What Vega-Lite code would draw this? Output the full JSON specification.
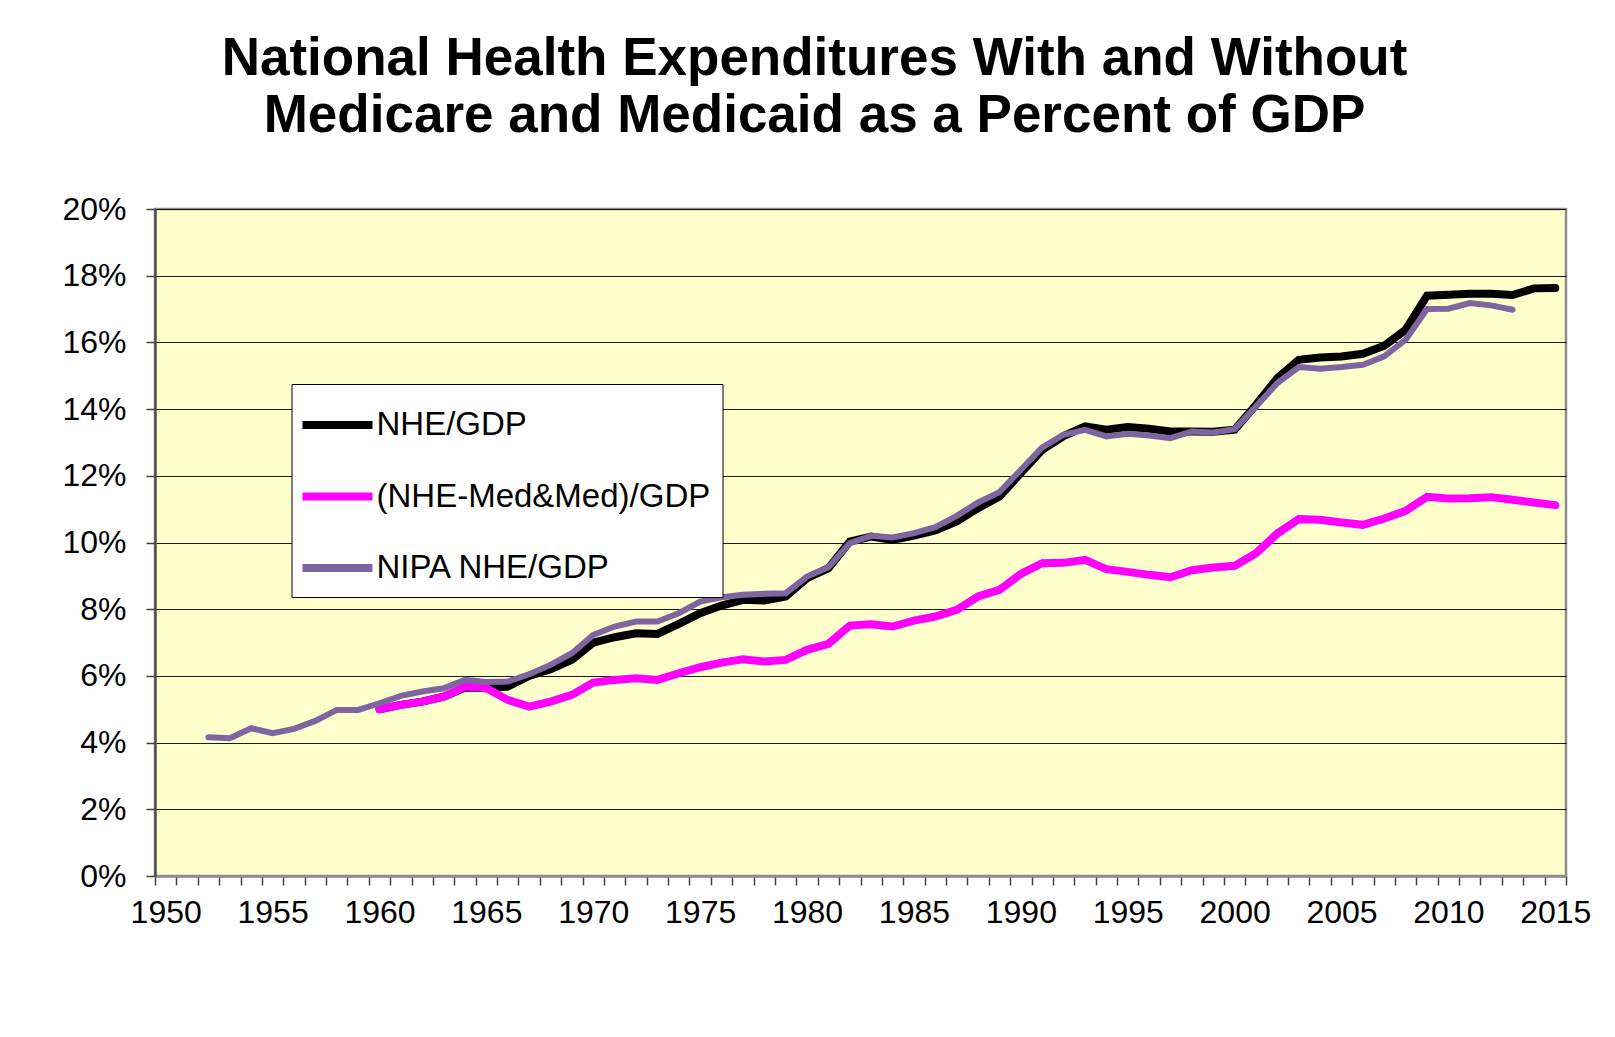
{
  "$schema": "https://vega.github.io/schema/vega-lite/v6.json",
  "width": 1411,
  "height": 667,
  "autosize": {"type": "none"},
  "padding": {"left": 155, "top": 209, "right": 49, "bottom": 161},
  "background": "white",
  "title": {
    "text": ["National Health Expenditures With and Without", "Medicare and Medicaid as a Percent of GDP"],
    "font": "Liberation Sans",
    "fontSize": 53,
    "fontWeight": "bold",
    "color": "black",
    "lineHeight": 57,
    "anchor": "middle",
    "baseline": "bottom",
    "offset": -3,
    "dx": -46
  },
  "config": {
    "view": {"fill": "#FFFFCC", "stroke": "#8c8c8c", "strokeWidth": 2.5},
    "font": "Liberation Sans"
  },
  "data": {
    "values": [
      {"year": 1960, "series": "NHE/GDP", "value": 5.0},
      {"year": 1961, "series": "NHE/GDP", "value": 5.13},
      {"year": 1962, "series": "NHE/GDP", "value": 5.23},
      {"year": 1963, "series": "NHE/GDP", "value": 5.38},
      {"year": 1964, "series": "NHE/GDP", "value": 5.65},
      {"year": 1965, "series": "NHE/GDP", "value": 5.63},
      {"year": 1966, "series": "NHE/GDP", "value": 5.68},
      {"year": 1967, "series": "NHE/GDP", "value": 6.0},
      {"year": 1968, "series": "NHE/GDP", "value": 6.2},
      {"year": 1969, "series": "NHE/GDP", "value": 6.48},
      {"year": 1970, "series": "NHE/GDP", "value": 7.0},
      {"year": 1971, "series": "NHE/GDP", "value": 7.16},
      {"year": 1972, "series": "NHE/GDP", "value": 7.28},
      {"year": 1973, "series": "NHE/GDP", "value": 7.26},
      {"year": 1974, "series": "NHE/GDP", "value": 7.56},
      {"year": 1975, "series": "NHE/GDP", "value": 7.88},
      {"year": 1976, "series": "NHE/GDP", "value": 8.11},
      {"year": 1977, "series": "NHE/GDP", "value": 8.28},
      {"year": 1978, "series": "NHE/GDP", "value": 8.26},
      {"year": 1979, "series": "NHE/GDP", "value": 8.38},
      {"year": 1980, "series": "NHE/GDP", "value": 8.93},
      {"year": 1981, "series": "NHE/GDP", "value": 9.23},
      {"year": 1982, "series": "NHE/GDP", "value": 10.03},
      {"year": 1983, "series": "NHE/GDP", "value": 10.18},
      {"year": 1984, "series": "NHE/GDP", "value": 10.08},
      {"year": 1985, "series": "NHE/GDP", "value": 10.21},
      {"year": 1986, "series": "NHE/GDP", "value": 10.36},
      {"year": 1987, "series": "NHE/GDP", "value": 10.63},
      {"year": 1988, "series": "NHE/GDP", "value": 11.03},
      {"year": 1989, "series": "NHE/GDP", "value": 11.38},
      {"year": 1990, "series": "NHE/GDP", "value": 12.08},
      {"year": 1991, "series": "NHE/GDP", "value": 12.78},
      {"year": 1992, "series": "NHE/GDP", "value": 13.19},
      {"year": 1993, "series": "NHE/GDP", "value": 13.48},
      {"year": 1994, "series": "NHE/GDP", "value": 13.38},
      {"year": 1995, "series": "NHE/GDP", "value": 13.46},
      {"year": 1996, "series": "NHE/GDP", "value": 13.41},
      {"year": 1997, "series": "NHE/GDP", "value": 13.33},
      {"year": 1998, "series": "NHE/GDP", "value": 13.33},
      {"year": 1999, "series": "NHE/GDP", "value": 13.32},
      {"year": 2000, "series": "NHE/GDP", "value": 13.38},
      {"year": 2001, "series": "NHE/GDP", "value": 14.13},
      {"year": 2002, "series": "NHE/GDP", "value": 14.93},
      {"year": 2003, "series": "NHE/GDP", "value": 15.48},
      {"year": 2004, "series": "NHE/GDP", "value": 15.55},
      {"year": 2005, "series": "NHE/GDP", "value": 15.58},
      {"year": 2006, "series": "NHE/GDP", "value": 15.66},
      {"year": 2007, "series": "NHE/GDP", "value": 15.9},
      {"year": 2008, "series": "NHE/GDP", "value": 16.38},
      {"year": 2009, "series": "NHE/GDP", "value": 17.4},
      {"year": 2010, "series": "NHE/GDP", "value": 17.43},
      {"year": 2011, "series": "NHE/GDP", "value": 17.46},
      {"year": 2012, "series": "NHE/GDP", "value": 17.46},
      {"year": 2013, "series": "NHE/GDP", "value": 17.42},
      {"year": 2014, "series": "NHE/GDP", "value": 17.62},
      {"year": 2015, "series": "NHE/GDP", "value": 17.63},
      {"year": 1960, "series": "(NHE-Med&Med)/GDP", "value": 5.0},
      {"year": 1961, "series": "(NHE-Med&Med)/GDP", "value": 5.13},
      {"year": 1962, "series": "(NHE-Med&Med)/GDP", "value": 5.23},
      {"year": 1963, "series": "(NHE-Med&Med)/GDP", "value": 5.38},
      {"year": 1964, "series": "(NHE-Med&Med)/GDP", "value": 5.68},
      {"year": 1965, "series": "(NHE-Med&Med)/GDP", "value": 5.63},
      {"year": 1966, "series": "(NHE-Med&Med)/GDP", "value": 5.28},
      {"year": 1967, "series": "(NHE-Med&Med)/GDP", "value": 5.08},
      {"year": 1968, "series": "(NHE-Med&Med)/GDP", "value": 5.23},
      {"year": 1969, "series": "(NHE-Med&Med)/GDP", "value": 5.43},
      {"year": 1970, "series": "(NHE-Med&Med)/GDP", "value": 5.8},
      {"year": 1971, "series": "(NHE-Med&Med)/GDP", "value": 5.88},
      {"year": 1972, "series": "(NHE-Med&Med)/GDP", "value": 5.93},
      {"year": 1973, "series": "(NHE-Med&Med)/GDP", "value": 5.88},
      {"year": 1974, "series": "(NHE-Med&Med)/GDP", "value": 6.08},
      {"year": 1975, "series": "(NHE-Med&Med)/GDP", "value": 6.26},
      {"year": 1976, "series": "(NHE-Med&Med)/GDP", "value": 6.4},
      {"year": 1977, "series": "(NHE-Med&Med)/GDP", "value": 6.5},
      {"year": 1978, "series": "(NHE-Med&Med)/GDP", "value": 6.43},
      {"year": 1979, "series": "(NHE-Med&Med)/GDP", "value": 6.48},
      {"year": 1980, "series": "(NHE-Med&Med)/GDP", "value": 6.78},
      {"year": 1981, "series": "(NHE-Med&Med)/GDP", "value": 6.96},
      {"year": 1982, "series": "(NHE-Med&Med)/GDP", "value": 7.51},
      {"year": 1983, "series": "(NHE-Med&Med)/GDP", "value": 7.55},
      {"year": 1984, "series": "(NHE-Med&Med)/GDP", "value": 7.48},
      {"year": 1985, "series": "(NHE-Med&Med)/GDP", "value": 7.66},
      {"year": 1986, "series": "(NHE-Med&Med)/GDP", "value": 7.78},
      {"year": 1987, "series": "(NHE-Med&Med)/GDP", "value": 7.98},
      {"year": 1988, "series": "(NHE-Med&Med)/GDP", "value": 8.38},
      {"year": 1989, "series": "(NHE-Med&Med)/GDP", "value": 8.58},
      {"year": 1990, "series": "(NHE-Med&Med)/GDP", "value": 9.06},
      {"year": 1991, "series": "(NHE-Med&Med)/GDP", "value": 9.38},
      {"year": 1992, "series": "(NHE-Med&Med)/GDP", "value": 9.39},
      {"year": 1993, "series": "(NHE-Med&Med)/GDP", "value": 9.48},
      {"year": 1994, "series": "(NHE-Med&Med)/GDP", "value": 9.2},
      {"year": 1995, "series": "(NHE-Med&Med)/GDP", "value": 9.12},
      {"year": 1996, "series": "(NHE-Med&Med)/GDP", "value": 9.03},
      {"year": 1997, "series": "(NHE-Med&Med)/GDP", "value": 8.96},
      {"year": 1998, "series": "(NHE-Med&Med)/GDP", "value": 9.17},
      {"year": 1999, "series": "(NHE-Med&Med)/GDP", "value": 9.25},
      {"year": 2000, "series": "(NHE-Med&Med)/GDP", "value": 9.3},
      {"year": 2001, "series": "(NHE-Med&Med)/GDP", "value": 9.68},
      {"year": 2002, "series": "(NHE-Med&Med)/GDP", "value": 10.27},
      {"year": 2003, "series": "(NHE-Med&Med)/GDP", "value": 10.7},
      {"year": 2004, "series": "(NHE-Med&Med)/GDP", "value": 10.68},
      {"year": 2005, "series": "(NHE-Med&Med)/GDP", "value": 10.6},
      {"year": 2006, "series": "(NHE-Med&Med)/GDP", "value": 10.53},
      {"year": 2007, "series": "(NHE-Med&Med)/GDP", "value": 10.72},
      {"year": 2008, "series": "(NHE-Med&Med)/GDP", "value": 10.95},
      {"year": 2009, "series": "(NHE-Med&Med)/GDP", "value": 11.37},
      {"year": 2010, "series": "(NHE-Med&Med)/GDP", "value": 11.32},
      {"year": 2011, "series": "(NHE-Med&Med)/GDP", "value": 11.33},
      {"year": 2012, "series": "(NHE-Med&Med)/GDP", "value": 11.36},
      {"year": 2013, "series": "(NHE-Med&Med)/GDP", "value": 11.28},
      {"year": 2014, "series": "(NHE-Med&Med)/GDP", "value": 11.2},
      {"year": 2015, "series": "(NHE-Med&Med)/GDP", "value": 11.12},
      {"year": 1952, "series": "NIPA NHE/GDP", "value": 4.16},
      {"year": 1953, "series": "NIPA NHE/GDP", "value": 4.13},
      {"year": 1954, "series": "NIPA NHE/GDP", "value": 4.43},
      {"year": 1955, "series": "NIPA NHE/GDP", "value": 4.28},
      {"year": 1956, "series": "NIPA NHE/GDP", "value": 4.41},
      {"year": 1957, "series": "NIPA NHE/GDP", "value": 4.65},
      {"year": 1958, "series": "NIPA NHE/GDP", "value": 4.98},
      {"year": 1959, "series": "NIPA NHE/GDP", "value": 4.98},
      {"year": 1960, "series": "NIPA NHE/GDP", "value": 5.18},
      {"year": 1961, "series": "NIPA NHE/GDP", "value": 5.4},
      {"year": 1962, "series": "NIPA NHE/GDP", "value": 5.53},
      {"year": 1963, "series": "NIPA NHE/GDP", "value": 5.63},
      {"year": 1964, "series": "NIPA NHE/GDP", "value": 5.88},
      {"year": 1965, "series": "NIPA NHE/GDP", "value": 5.82},
      {"year": 1966, "series": "NIPA NHE/GDP", "value": 5.83},
      {"year": 1967, "series": "NIPA NHE/GDP", "value": 6.05},
      {"year": 1968, "series": "NIPA NHE/GDP", "value": 6.33},
      {"year": 1969, "series": "NIPA NHE/GDP", "value": 6.68},
      {"year": 1970, "series": "NIPA NHE/GDP", "value": 7.23},
      {"year": 1971, "series": "NIPA NHE/GDP", "value": 7.48},
      {"year": 1972, "series": "NIPA NHE/GDP", "value": 7.63},
      {"year": 1973, "series": "NIPA NHE/GDP", "value": 7.63},
      {"year": 1974, "series": "NIPA NHE/GDP", "value": 7.88},
      {"year": 1975, "series": "NIPA NHE/GDP", "value": 8.23},
      {"year": 1976, "series": "NIPA NHE/GDP", "value": 8.36},
      {"year": 1977, "series": "NIPA NHE/GDP", "value": 8.43},
      {"year": 1978, "series": "NIPA NHE/GDP", "value": 8.46},
      {"year": 1979, "series": "NIPA NHE/GDP", "value": 8.48},
      {"year": 1980, "series": "NIPA NHE/GDP", "value": 8.98},
      {"year": 1981, "series": "NIPA NHE/GDP", "value": 9.26},
      {"year": 1982, "series": "NIPA NHE/GDP", "value": 9.98},
      {"year": 1983, "series": "NIPA NHE/GDP", "value": 10.2},
      {"year": 1984, "series": "NIPA NHE/GDP", "value": 10.15},
      {"year": 1985, "series": "NIPA NHE/GDP", "value": 10.28},
      {"year": 1986, "series": "NIPA NHE/GDP", "value": 10.46},
      {"year": 1987, "series": "NIPA NHE/GDP", "value": 10.8},
      {"year": 1988, "series": "NIPA NHE/GDP", "value": 11.2},
      {"year": 1989, "series": "NIPA NHE/GDP", "value": 11.51},
      {"year": 1990, "series": "NIPA NHE/GDP", "value": 12.18},
      {"year": 1991, "series": "NIPA NHE/GDP", "value": 12.85},
      {"year": 1992, "series": "NIPA NHE/GDP", "value": 13.23},
      {"year": 1993, "series": "NIPA NHE/GDP", "value": 13.38},
      {"year": 1994, "series": "NIPA NHE/GDP", "value": 13.18},
      {"year": 1995, "series": "NIPA NHE/GDP", "value": 13.26},
      {"year": 1996, "series": "NIPA NHE/GDP", "value": 13.21},
      {"year": 1997, "series": "NIPA NHE/GDP", "value": 13.13},
      {"year": 1998, "series": "NIPA NHE/GDP", "value": 13.33},
      {"year": 1999, "series": "NIPA NHE/GDP", "value": 13.3},
      {"year": 2000, "series": "NIPA NHE/GDP", "value": 13.4},
      {"year": 2001, "series": "NIPA NHE/GDP", "value": 14.08},
      {"year": 2002, "series": "NIPA NHE/GDP", "value": 14.78},
      {"year": 2003, "series": "NIPA NHE/GDP", "value": 15.26},
      {"year": 2004, "series": "NIPA NHE/GDP", "value": 15.21},
      {"year": 2005, "series": "NIPA NHE/GDP", "value": 15.26},
      {"year": 2006, "series": "NIPA NHE/GDP", "value": 15.33},
      {"year": 2007, "series": "NIPA NHE/GDP", "value": 15.58},
      {"year": 2008, "series": "NIPA NHE/GDP", "value": 16.08},
      {"year": 2009, "series": "NIPA NHE/GDP", "value": 17.0},
      {"year": 2010, "series": "NIPA NHE/GDP", "value": 17.01},
      {"year": 2011, "series": "NIPA NHE/GDP", "value": 17.18},
      {"year": 2012, "series": "NIPA NHE/GDP", "value": 17.11},
      {"year": 2013, "series": "NIPA NHE/GDP", "value": 16.98}
    ]
  },
  "encoding": {
    "x": {
      "field": "year",
      "type": "ordinal",
      "bandPosition": 0.5,
      "scale": {
        "type": "band",
        "paddingInner": 0,
        "paddingOuter": 0,
        "domain": [1950,1951,1952,1953,1954,1955,1956,1957,1958,1959,1960,1961,1962,1963,1964,1965,1966,1967,1968,1969,1970,1971,1972,1973,1974,1975,1976,1977,1978,1979,1980,1981,1982,1983,1984,1985,1986,1987,1988,1989,1990,1991,1992,1993,1994,1995,1996,1997,1998,1999,2000,2001,2002,2003,2004,2005,2006,2007,2008,2009,2010,2011,2012,2013,2014,2015]
      },
      "axis": {
        "title": null,
        "tickBand": "extent",
        "labelExpr": "datum.value % 5 === 0 ? datum.label : ''",
        "labelAngle": 0,
        "labelOverlap": false,
        "labelFont": "Liberation Sans",
        "labelFontSize": 32,
        "labelColor": "black",
        "labelPadding": 12,
        "tickSize": 9,
        "tickColor": "#404040",
        "tickWidth": 1.5,
        "domainColor": "#8c8c8c",
        "domainWidth": 2.5,
        "grid": false
      }
    },
    "y": {
      "field": "value",
      "type": "quantitative",
      "scale": {"domain": [0, 20], "nice": false},
      "axis": {
        "title": null,
        "values": [0, 2, 4, 6, 8, 10, 12, 14, 16, 18, 20],
        "labelExpr": "datum.value + '%'",
        "labelFont": "Liberation Sans",
        "labelFontSize": 32,
        "labelColor": "black",
        "labelPadding": 20,
        "tickSize": 9,
        "tickColor": "#404040",
        "tickWidth": 1.5,
        "domainColor": "#505050",
        "domainWidth": 2.5,
        "grid": true,
        "gridColor": "#1a1a1a",
        "gridWidth": 1
      }
    },
    "color": {
      "field": "series",
      "type": "nominal",
      "scale": {
        "domain": ["NHE/GDP", "(NHE-Med&Med)/GDP", "NIPA NHE/GDP"],
        "range": ["#000000", "#FF00FF", "#8064A2"]
      },
      "legend": {
        "title": null,
        "orient": "none",
        "legendX": 136.5,
        "legendY": 175,
        "fillColor": "white",
        "strokeColor": "black",
        "padding": 12,
        "symbolType": "M-1.4,0H1.4",
        "symbolSize": 2500,
        "symbolStrokeWidth": 8,
        "symbolOffset": 5,
        "labelOffset": 10,
        "rowPadding": 25.5,
        "labelFont": "Liberation Sans",
        "labelFontSize": 33,
        "labelColor": "black",
        "labelLimit": 600
      }
    }
  },
  "layer": [
    {
      "transform": [{"filter": "datum.series === 'NHE/GDP'"}],
      "mark": {"type": "line", "strokeWidth": 8, "strokeCap": "round"}
    },
    {
      "transform": [{"filter": "datum.series === '(NHE-Med&Med)/GDP'"}],
      "mark": {"type": "line", "strokeWidth": 8, "strokeCap": "round"}
    },
    {
      "transform": [{"filter": "datum.series === 'NIPA NHE/GDP'"}],
      "mark": {"type": "line", "strokeWidth": 6, "strokeCap": "round"}
    }
  ]
}
